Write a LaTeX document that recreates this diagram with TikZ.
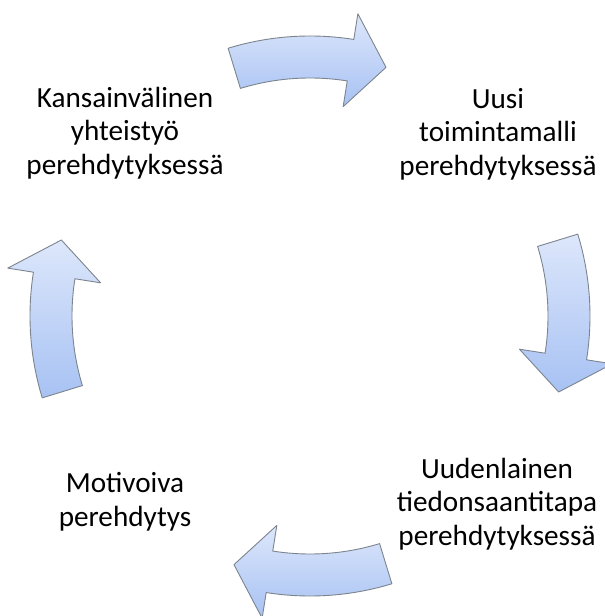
\documentclass[tikz,border=0pt]{standalone}
\usepackage{fontspec}
\setmainfont{Carlito}
\usepackage[HTML]{xcolor}
\usetikzlibrary{positioning, calc}

\definecolor{arrowtop}{HTML}{DDE7FB}
\definecolor{arrowbottom}{HTML}{A7C2F3}
\definecolor{arrowline}{HTML}{7C848E}

% curved cycle arrow, #1 = angle of its middle
\newcommand{\cyclearrow}[1]{%
  \shadedraw[cycle arrow]
    ($(C)+(#1+17:280)$) arc[start angle=#1+17, end angle=#1-9, radius=280]
    -- ($(C)+(#1-9:306)$) -- ($(C)+(#1-17:260)$) -- ($(C)+(#1-9:212)$)
    -- ($(C)+(#1-9:238)$) arc[start angle=#1-9, end angle=#1+17, radius=238]
    -- cycle;}

\begin{document}
\begin{tikzpicture}[
    x=1pt, y=1pt,
    cycle arrow/.style={top color=arrowtop, bottom color=arrowbottom,
        draw=arrowline, line width=0.9pt, line join=round},
    every node/.style={inner sep=0pt, align=center,
        font=\fontsize{29.2}{33.5}\selectfont}
]
    \useasboundingbox (0,0) rectangle (605,616);
    % 1. Centre of the cycle
    \coordinate (C) at (310,300);

    % 2. The four steps
    \node (intl) at (125,483) {Kansainvälinen\\yhteistyö\\perehdytyksessä};
    \node (model) at (498,482) {Uusi\\toimintamalli\\perehdytyksessä};
    \node (info) at (497,112) {Uudenlainen\\tiedonsaantitapa\\perehdytyksessä};
    \node (motiv) at (125,114) {Motivoiva\\perehdytys};

    % 3. The arrows between them (clockwise)
    \cyclearrow{90}
    \cyclearrow{0}
    \cyclearrow{-90}
    \cyclearrow{180}
\end{tikzpicture}
\end{document}
